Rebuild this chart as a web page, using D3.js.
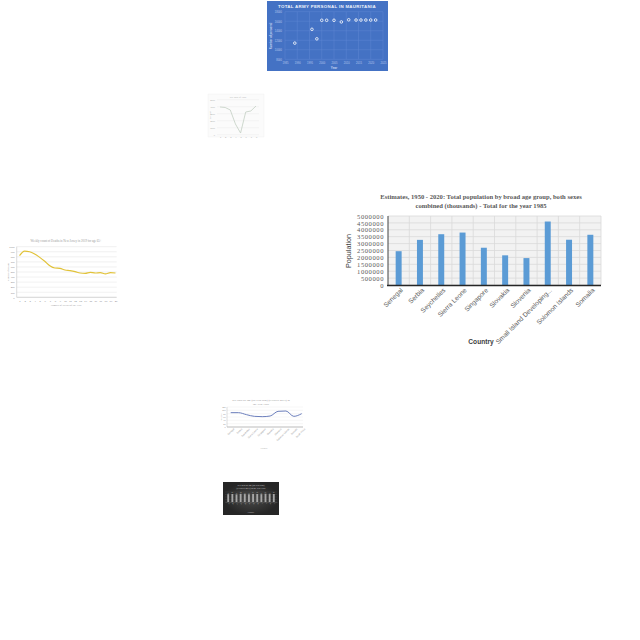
<!DOCTYPE html>
<html><head><meta charset="utf-8">
<script src="https://cdn.jsdelivr.net/npm/d3@7/dist/d3.min.js"></script>
<style>body{margin:0;background:#fff}svg{display:block}</style>
</head><body>
<script>
// ---- Main bar chart data ----
const countries = ["Senegal","Serbia","Seychelles","Sierra Leone","Singapore","Slovakia","Slovenia","Small Island Developing...","Solomon Islands","Somalia"];
const population = [2450000,3270000,3680000,3800000,2700000,2150000,1950000,4600000,3280000,3640000];
const popTicks = [0,500000,1000000,1500000,2000000,2500000,3000000,3500000,4000000,4500000,5000000];

// ---- Army scatter data ----
const armyYears = [1989,1996,1998,2000,2002,2005,2008,2011,2014,2016,2018,2020,2022];
const armyValues = [11400,14300,12300,16200,16200,16200,15850,16300,16250,16250,16250,16250,16250];
const armyYearTicks = [1985,1990,1995,2000,2005,2010,2015,2020,2025];
const armyValueTicks = [8000,10000,12000,14000,16000,18000];

// ---- Small gray line chart ----
const grayX = [1,2,3,4,5,6,7,8];
const grayValues = [3960,3890,3530,1530,240,3240,3390,4100];
const grayTicks = [0,1000,2000,3000,4000,5000];

// ---- Yellow line chart ----
const yellowX = d3.range(1,21).map(String);
const yellowValues = [822,914,901,855,789,711,625,579,572,539,526,507,480,474,493,480,487,461,487,480];
const yellowTicks = [0,100,200,300,400,500,600,700,800,900,1000];

// ---- Sex ratio line chart ----
const ratioCats = ["Senegal","Serbia","Seychelles","Sierra Leone","Singapore","Slovakia","Slovenia","Solomon Islands","Somalia","South Africa"];
const ratioValues = [86,86,74,64,62,66,94,96,64,80];
const ratioTicks = [0,20,40,60,80,100,120];

// ---- Dark bar chart ----
const darkCats = ["A","B","C","D","E","F","G","H","I","J","K","L"];
const darkValues = [78,80,76,82,79,77,81,80,78,83,79,80];

const svg = d3.select("body").append("svg").attr("width",640).attr("height",640);
const fmt = d3.format("d");

// ================= MAIN BAR CHART =================
(function(){
  const g = svg.append("g");
  const x = d3.scaleBand().domain(countries).range([388,601]).paddingInner(0.72).paddingOuter(0.36);
  const y = d3.scaleLinear().domain([0,5000000]).range([285,216]);
  g.append("rect").attr("x",388).attr("y",216).attr("width",213).attr("height",69).attr("fill","#f2f2f2");
  g.selectAll(".hg").data(popTicks).join("line")
    .attr("x1",388).attr("x2",601).attr("y1",d=>y(d)).attr("y2",d=>y(d))
    .attr("stroke","#d9d9d9").attr("stroke-width",0.8);
  const step = x.step();
  g.selectAll(".vg").data(countries).join("line")
    .attr("x1",(d,i)=>388+step*(i+1)).attr("x2",(d,i)=>388+step*(i+1))
    .attr("y1",216).attr("y2",285).attr("stroke","#d9d9d9").attr("stroke-width",0.8);
  g.selectAll(".bar").data(population).join("rect")
    .attr("x",(d,i)=>x(countries[i])).attr("width",x.bandwidth())
    .attr("y",d=>y(d)).attr("height",d=>285-y(d)).attr("fill","#5b9bd5");
  g.append("line").attr("x1",388).attr("x2",388).attr("y1",216).attr("y2",286).attr("stroke","#404040").attr("stroke-width",1);
  g.append("line").attr("x1",387).attr("x2",601).attr("y1",285.5).attr("y2",285.5).attr("stroke","#262626").attr("stroke-width",1.6);
  const ya = d3.axisLeft(y).tickValues(popTicks).tickSize(0).tickPadding(4).tickFormat(fmt);
  const yg = g.append("g").attr("transform","translate(388,0)").call(ya);
  yg.select(".domain").remove();
  yg.selectAll("text").attr("font-family","Liberation Serif, serif").attr("font-size",6.6).attr("letter-spacing",0.55).attr("fill","#595959");
  const xa = d3.axisBottom(x).tickSize(0).tickPadding(0);
  const xg = g.append("g").attr("transform","translate(0,289)").call(xa);
  xg.select(".domain").remove();
  xg.selectAll("text").attr("font-family","Liberation Sans, Arial").attr("font-size",6.6).attr("fill","#595959")
    .attr("text-anchor","end").attr("dy","0.35em").attr("transform","translate(3,0) rotate(-45)");
  g.append("text").attr("x",481).attr("y",199).attr("text-anchor","middle")
    .attr("font-family","Liberation Serif, serif").attr("font-weight","bold").attr("font-size",6.6).attr("fill","#595959")
    .text("Estimates, 1950 - 2020: Total population by broad age group, both sexes");
  g.append("text").attr("x",481).attr("y",208).attr("text-anchor","middle")
    .attr("font-family","Liberation Serif, serif").attr("font-weight","bold").attr("font-size",6.6).attr("fill","#595959")
    .text("combined (thousands) - Total for the year 1985");
  g.append("text").attr("transform","translate(351,251) rotate(-90)").attr("text-anchor","middle")
    .attr("font-family","Liberation Sans, Arial").attr("font-size",7.2).attr("fill","#404040").text("Population");
  g.append("text").attr("x",481).attr("y",344).attr("text-anchor","middle")
    .attr("font-family","Liberation Sans, Arial").attr("font-weight","bold").attr("font-size",6.6).attr("fill","#404040").text("Country");
})();

// ================= ARMY SCATTER =================
(function(){
  const g = svg.append("g");
  g.append("rect").attr("x",267).attr("y",1).attr("width",121).attr("height",70).attr("fill","#4472c4");
  const x = d3.scaleLinear().domain([1985,2025]).range([285,383]);
  const y = d3.scaleLinear().domain([8000,18000]).range([59.3,11.7]);
  g.selectAll(".hg").data(armyValueTicks).join("line").attr("x1",285).attr("x2",383)
    .attr("y1",d=>y(d)).attr("y2",d=>y(d)).attr("stroke","#5f86d2").attr("stroke-width",0.5);
  g.selectAll(".vg").data(armyYearTicks).join("line").attr("x1",d=>x(d)).attr("x2",d=>x(d))
    .attr("y1",11.7).attr("y2",59.3).attr("stroke","#5f86d2").attr("stroke-width",0.5);
  g.selectAll(".pt").data(armyValues).join("circle").attr("cx",(d,i)=>x(armyYears[i])).attr("cy",d=>y(d))
    .attr("r",1.3).attr("fill","#4472c4").attr("stroke","#fff").attr("stroke-width",0.8);
  const ya = d3.axisLeft(y).tickValues(armyValueTicks).tickSize(0).tickPadding(3).tickFormat(fmt);
  const yg = g.append("g").attr("transform","translate(285,0)").call(ya);
  yg.select(".domain").remove();
  yg.selectAll("text").attr("font-size",2.6).attr("fill","#b9c9ee").attr("font-family","Liberation Sans, Arial");
  const xa = d3.axisBottom(x).tickValues(armyYearTicks).tickSize(0).tickPadding(3).tickFormat(fmt);
  const xg = g.append("g").attr("transform","translate(0,59.3)").call(xa);
  xg.select(".domain").remove();
  xg.selectAll("text").attr("font-size",2.6).attr("fill","#b9c9ee").attr("font-family","Liberation Sans, Arial");
  g.append("text").attr("x",327).attr("y",7.5).attr("text-anchor","middle").attr("font-size",4.4)
    .attr("font-weight","bold").attr("fill","#eef2fb").attr("font-family","Liberation Sans, Arial").attr("letter-spacing",0.3)
    .text("TOTAL ARMY PERSONAL IN MAURITANIA");
  g.append("text").attr("x",334).attr("y",69).attr("text-anchor","middle").attr("font-size",3)
    .attr("font-weight","bold").attr("fill","#c8d5f2").attr("font-family","Liberation Sans, Arial").text("Year");
  g.append("text").attr("transform","translate(272,36) rotate(-90)").attr("text-anchor","middle").attr("font-size",2.8)
    .attr("font-weight","bold").attr("fill","#c8d5f2").attr("font-family","Liberation Sans, Arial").text("Number of personal");
})();

// ================= SMALL GRAY LINE =================
(function(){
  const g = svg.append("g");
  g.append("rect").attr("x",208).attr("y",94).attr("width",56).attr("height",43).attr("fill","#fbfbfb").attr("stroke","#eeeeee").attr("stroke-width",0.4);
  const x = d3.scalePoint().domain(grayX).range([220,256]);
  const y = d3.scaleLinear().domain([0,5000]).range([134.7,99.7]);
  g.selectAll(".hg").data(grayTicks).join("line").attr("x1",217).attr("x2",259)
    .attr("y1",d=>y(d)).attr("y2",d=>y(d)).attr("stroke","#ececec").attr("stroke-width",0.4);
  g.append("path").datum(grayValues).attr("fill","none").attr("stroke","#c3cfc3").attr("stroke-width",0.8)
    .attr("d",d3.line().x((d,i)=>x(grayX[i])).y(d=>y(d)));
  const ya = d3.axisLeft(y).tickValues(grayTicks).tickSize(0).tickPadding(2).tickFormat(fmt);
  const yg = g.append("g").attr("transform","translate(217,0)").call(ya);
  yg.select(".domain").remove();
  yg.selectAll("text").attr("font-size",2.2).attr("fill","#aaa");
  const xa = d3.axisBottom(x).tickSize(0).tickPadding(1.5);
  const xg = g.append("g").attr("transform","translate(0,134.7)").call(xa);
  xg.select(".domain").remove();
  xg.selectAll("text").attr("font-size",2.2).attr("fill","#aaa");
  g.append("text").attr("x",238).attr("y",98).attr("text-anchor","middle").attr("font-size",2.4).attr("fill","#aaa").text("Sex ratio of 1990");
  g.append("text").attr("transform","translate(211,115) rotate(-90)").attr("text-anchor","middle").attr("font-size",2.2).attr("fill","#aaa").text("Sex ratio");
})();

// ================= YELLOW LINE =================
(function(){
  const g = svg.append("g");
  const x = d3.scalePoint().domain(yellowX).range([19.5,115.5]);
  const y = d3.scaleLinear().domain([0,1000]).range([297.3,246.7]);
  g.selectAll(".hg").data(yellowTicks).join("line").attr("x1",16.7).attr("x2",116.7)
    .attr("y1",d=>y(d)).attr("y2",d=>y(d)).attr("stroke","#e3e3e3").attr("stroke-width",0.5);
  g.append("line").attr("x1",16.7).attr("x2",16.7).attr("y1",246.7).attr("y2",297.3).attr("stroke","#bbb").attr("stroke-width",0.5);
  g.append("line").attr("x1",16.7).attr("x2",116.7).attr("y1",297.3).attr("y2",297.3).attr("stroke","#bbb").attr("stroke-width",0.5);
  g.append("path").datum(yellowValues).attr("fill","none").attr("stroke","#e1c238").attr("stroke-width",1.2)
    .attr("d",d3.line().x((d,i)=>x(yellowX[i])).y(d=>y(d)).curve(d3.curveMonotoneX));
  const ya = d3.axisLeft(y).tickValues(yellowTicks).tickSize(0).tickPadding(2).tickFormat(fmt);
  const yg = g.append("g").attr("transform","translate(16.7,0)").call(ya);
  yg.select(".domain").remove();
  yg.selectAll("text").attr("font-size",2.4).attr("fill","#888");
  const xa = d3.axisBottom(x).tickSize(0).tickPadding(2.5);
  const xg = g.append("g").attr("transform","translate(0,297.3)").call(xa);
  xg.select(".domain").remove();
  xg.selectAll("text").attr("font-size",2.4).attr("fill","#888");
  g.append("text").attr("x",66).attr("y",242).attr("text-anchor","middle").attr("font-size",3).attr("fill","#999")
    .text("Weekly count of Deaths in New Jersey in 2019 for age 65+");
  g.append("text").attr("x",66).attr("y",306).attr("text-anchor","middle").attr("font-size",2.6).attr("fill","#999").text("Number of Weeks of the Year");
  g.append("text").attr("transform","translate(8.5,272) rotate(-90)").attr("text-anchor","middle").attr("font-size",2.5).attr("fill","#999").text("Number of Deaths");
})();

// ================= SEX RATIO LINE =================
(function(){
  const g = svg.append("g");
  const x = d3.scalePoint().domain(ratioCats).range([230.7,301.7]);
  const y = d3.scaleLinear().domain([0,120]).range([427,407]);
  g.selectAll(".hg").data(ratioTicks).join("line").attr("x1",227).attr("x2",303)
    .attr("y1",d=>y(d)).attr("y2",d=>y(d)).attr("stroke","#ececec").attr("stroke-width",0.4);
  g.append("line").attr("x1",227).attr("x2",303).attr("y1",427).attr("y2",427).attr("stroke","#999").attr("stroke-width",0.6);
  g.append("line").attr("x1",227).attr("x2",227).attr("y1",407).attr("y2",427).attr("stroke","#bbb").attr("stroke-width",0.5);
  g.append("path").datum(ratioValues).attr("fill","none").attr("stroke","#5a6fb4").attr("stroke-width",0.9)
    .attr("d",d3.line().x((d,i)=>x(ratioCats[i])).y(d=>y(d)).curve(d3.curveMonotoneX));
  const ya = d3.axisLeft(y).tickValues(ratioTicks).tickSize(0).tickPadding(1.5).tickFormat(fmt);
  const yg = g.append("g").attr("transform","translate(227,0)").call(ya);
  yg.select(".domain").remove();
  yg.selectAll("text").attr("font-size",2).attr("fill","#888");
  const xa = d3.axisBottom(x).tickSize(0).tickPadding(1.5);
  const xg = g.append("g").attr("transform","translate(0,427)").call(xa);
  xg.select(".domain").remove();
  xg.selectAll("text").attr("font-size",2.3).attr("fill","#999").attr("text-anchor","end")
    .attr("transform","translate(1,0) rotate(-45)");
  g.append("text").attr("x",261).attr("y",401).attr("text-anchor","middle").attr("font-size",2.9).attr("fill","#888")
    .text("Sex ratio by age (65 year olds) (UNWPP 2017) in");
  g.append("text").attr("x",261).attr("y",405).attr("text-anchor","middle").attr("font-size",2.9).attr("fill","#888").text("the Year 1990");
  g.append("text").attr("x",264).attr("y",449).attr("text-anchor","middle").attr("font-size",2.2).attr("fill","#aaa").text("Country");
  g.append("text").attr("transform","translate(222,417) rotate(-90)").attr("text-anchor","middle").attr("font-size",2).attr("fill","#999").text("Sex ratio");
})();

// ================= DARK BAR CHART =================
(function(){
  const g = svg.append("g");
  const grad = svg.append("defs").append("radialGradient").attr("id","dk");
  grad.append("stop").attr("offset","0%").attr("stop-color","#4a4a4a");
  grad.append("stop").attr("offset","100%").attr("stop-color","#262626");
  g.append("rect").attr("x",223).attr("y",482).attr("width",56).attr("height",33).attr("fill","url(#dk)");
  const x = d3.scaleBand().domain(darkCats).range([225,277]).padding(0.55);
  const y = d3.scaleLinear().domain([0,100]).range([502,492]);
  g.selectAll(".hg").data([0,25,50,75,100]).join("line").attr("x1",225).attr("x2",277)
    .attr("y1",d=>y(d)).attr("y2",d=>y(d)).attr("stroke","#555").attr("stroke-width",0.3);
  g.selectAll(".bar").data(darkValues).join("rect").attr("x",(d,i)=>x(darkCats[i])).attr("width",x.bandwidth())
    .attr("y",d=>y(d)).attr("height",d=>502-y(d)).attr("fill","#a6a6a6");
  g.selectAll(".lbl").data(darkValues).join("text").attr("x",(d,i)=>x(darkCats[i])+x.bandwidth()/2).attr("y",d=>y(d)-0.6)
    .attr("text-anchor","middle").attr("font-size",1.5).attr("fill","#ccc").text(d=>d);
  const xa = d3.axisBottom(x).tickSize(0).tickPadding(1);
  const xg = g.append("g").attr("transform","translate(0,502)").call(xa);
  xg.select(".domain").attr("stroke","#777").attr("stroke-width",0.3);
  xg.selectAll("text").attr("font-size",1.8).attr("fill","#bbb").attr("text-anchor","end").attr("transform","rotate(-45)");
  g.append("text").attr("x",251).attr("y",486).attr("text-anchor","middle").attr("font-size",2.2).attr("fill","#ddd")
    .text("Sex ratio by age (65 year olds)");
  g.append("text").attr("x",251).attr("y",489).attr("text-anchor","middle").attr("font-size",2.2).attr("fill","#ddd")
    .text("(UNWPP 2017) in the Year 1970");
  g.append("text").attr("x",251).attr("y",512.5).attr("text-anchor","middle").attr("font-size",2).attr("fill","#ccc").text("Country");
})();
</script>
</body></html>
